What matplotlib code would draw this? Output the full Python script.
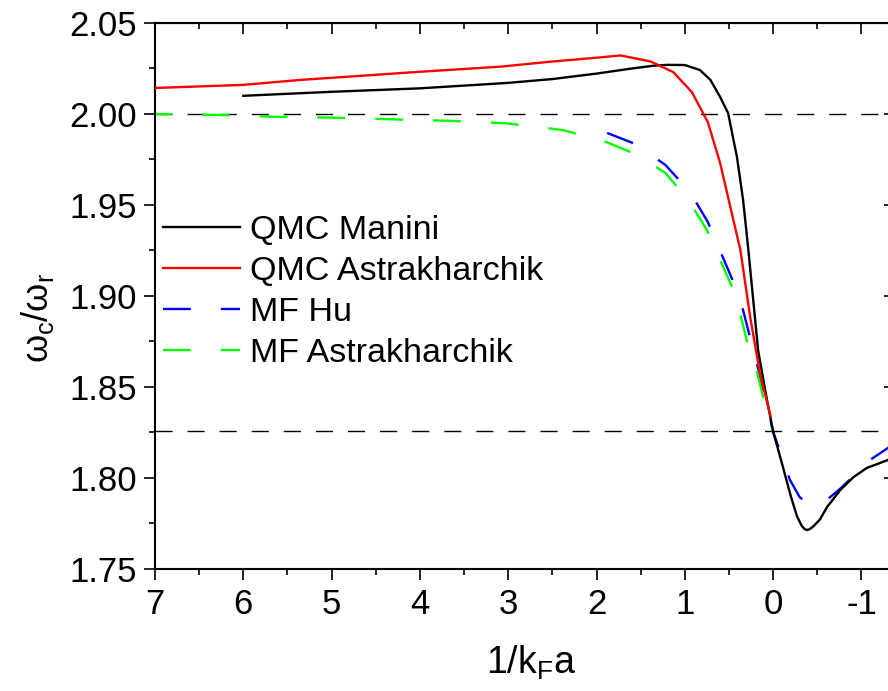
import numpy as np
import matplotlib as mpl
mpl.use('Agg')
import matplotlib.pyplot as plt
from matplotlib.ticker import MultipleLocator

plt.rcParams['font.family'] = ['Liberation Sans', 'DejaVu Sans']
plt.rcParams['mathtext.fontset'] = 'custom'
plt.rcParams['mathtext.rm'] = 'Liberation Sans'
plt.rcParams['mathtext.it'] = 'Liberation Sans'
plt.rcParams['mathtext.bf'] = 'Liberation Sans:bold'

# values
x_manini = [6.0, 5.0, 4.0, 3.0, 2.5, 2.0, 1.6, 1.36, 1.2, 1.0, 0.83, 0.71, 0.60, 0.51,
            0.41, 0.34, 0.28, 0.17, 0.07, 0.0, -0.10, -0.20, -0.27, -0.32, -0.35, -0.38,
            -0.41, -0.45, -0.53, -0.61, -0.76, -0.91, -1.06, -1.30, -1.45]
y_manini = [2.0100, 2.0122, 2.0141, 2.0171, 2.0192, 2.0222, 2.0250, 2.0265, 2.0270, 2.0269,
            2.0242, 2.0187, 2.0093, 2.0005, 1.9764, 1.9527, 1.9250, 1.8700, 1.8430, 1.8255,
            1.8080, 1.7900, 1.7790, 1.7740, 1.7722, 1.7714, 1.7718, 1.7732, 1.7772, 1.7840,
            1.7934, 1.8005, 1.8055, 1.8099, 1.8125]

x_qmc_astra = [7.0, 6.0, 5.36, 4.0, 3.09, 2.53, 1.96, 1.73, 1.39, 1.13, 0.92, 0.74, 0.60,
               0.37, 0.26, 0.15, 0.03]
y_qmc_astra = [2.0143, 2.0160, 2.0187, 2.0232, 2.0260, 2.0287, 2.0311, 2.0322, 2.0289,
               2.0230, 2.0120, 1.9956, 1.9730, 1.9250, 1.8885, 1.8577, 1.8340]

x_mf_hu = [1.88, 1.56, 1.22, 0.94, 0.74, 0.46, 0.35, 0.26, 0.18, 0.09, 0.0, -0.10, -0.19,
           -0.30, -0.42, -0.61, -0.78, -1.10, -1.30, -1.45]
y_mf_hu = [1.9896, 1.9835, 1.9720, 1.9570, 1.9407, 1.9088, 1.8940, 1.8770, 1.8620, 1.8445,
           1.8253, 1.8115, 1.7990, 1.7895, 1.7850, 1.7880, 1.7950, 1.8100, 1.8165, 1.8210]

x_mf_astra = [7.0, 6.3, 5.66, 5.0, 4.34, 3.69, 3.03, 2.38, 1.88, 1.56, 1.22, 0.96, 0.75,
              0.46, 0.37, 0.28, 0.18, 0.09, 0.0]
y_mf_astra = [2.0000, 1.9995, 1.9985, 1.9980, 1.9971, 1.9963, 1.9949, 1.9912, 1.9844,
              1.9780, 1.9676, 1.9527, 1.9363, 1.9044, 1.8896, 1.8720, 1.8577, 1.8400, 1.8253]

ref_levels = [2.0, np.sqrt(10 / 3)]

fig = plt.figure(figsize=(8.88, 6.91), dpi=100)
ax = fig.add_axes([155 / 888, 1 - 569 / 691, 740 / 888, 546 / 691])

for lev in ref_levels:
    ax.axhline(lev, color='black', lw=1.0, dashes=(12.3, 10.8), zorder=1)

ax.plot(x_manini, y_manini, color='black', lw=1.7, label='QMC Manini', zorder=3)
ax.plot(x_qmc_astra, y_qmc_astra, color='#ff0000', lw=1.7, label='QMC Astrakharchik', zorder=3)
ax.plot(x_mf_hu, y_mf_hu, color='#0000ff', lw=1.7, linestyle=(0, (11.8, 12.7)),
        label='MF Hu', zorder=2)
ax.plot(x_mf_astra, y_mf_astra, color='#00ff00', lw=1.7, linestyle=(4.7, (11.8, 12.7)),
        label='MF Astrakharchik', zorder=2)

ax.set_xlim(7, -1.38)
ax.set_ylim(1.75, 2.05)
ax.xaxis.set_major_locator(MultipleLocator(1))
ax.xaxis.set_minor_locator(MultipleLocator(0.5))
ax.yaxis.set_major_locator(MultipleLocator(0.05))
ax.yaxis.set_minor_locator(MultipleLocator(0.025))
ax.yaxis.set_major_formatter(mpl.ticker.FormatStrFormatter('%.2f'))
ax.xaxis.set_major_formatter(mpl.ticker.FuncFormatter(lambda v, p: '%d' % round(v)))

for s in ax.spines.values():
    s.set_linewidth(1.5)
ax.tick_params(which='both', direction='out', width=1.2, labelsize=25)
ax.tick_params(which='major', length=8)
ax.tick_params(which='minor', length=4.5)
ax.tick_params(axis='y', pad=5)
ax.tick_params(axis='x', pad=6)

top = ax.secondary_xaxis('top')
top.xaxis.set_major_locator(MultipleLocator(1))
top.xaxis.set_minor_locator(MultipleLocator(0.5))
top.tick_params(which='both', direction='in', width=1.2, labeltop=False)
top.tick_params(which='major', length=8)
top.tick_params(which='minor', length=4.5)
right = ax.secondary_yaxis('right')
right.yaxis.set_major_locator(MultipleLocator(0.05))
right.yaxis.set_minor_locator(MultipleLocator(0.025))
right.tick_params(which='both', direction='in', width=1.2, labelright=False)
right.tick_params(which='major', length=8)
right.tick_params(which='minor', length=4.5)

fig.text(531 / 888, 1 - 663 / 691, '1/k$_\\mathregular{F}$a', fontsize=27,
         ha='center', va='center')
fig.text(38 / 888, 1 - 318 / 691, r'$\omega_c/\omega_r$', fontsize=26,
         rotation=90, ha='center', va='center')

leg = ax.legend(loc='upper left', bbox_to_anchor=(163 / 888, 1 - 215 / 691),
                bbox_transform=fig.transFigure, frameon=False, fontsize=24.5,
                handlelength=2.25, handletextpad=0.3, labelspacing=0.29,
                borderpad=0, borderaxespad=0)
for h in leg.get_lines()[2:]:
    h.set_linestyle((0, (11.8, 12.7)))

fig.savefig('out.png', dpi=100)
